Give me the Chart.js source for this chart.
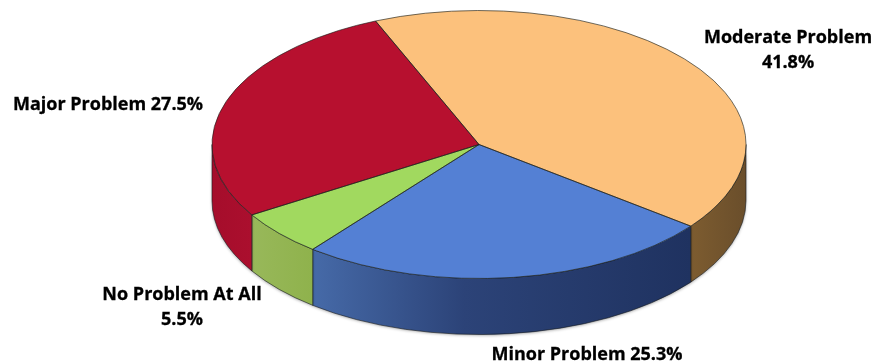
<!DOCTYPE html>
<html>
<head>
<meta charset="utf-8">
<script src="https://cdn.jsdelivr.net/npm/chart.js@4"></script>
<style>
    html, body { margin: 0; padding: 0; background: #fff; }
    canvas { display: block; }
</style>
</head>
<body>
<canvas id="grafico" width="880" height="364"></canvas>
<script>
const categorias = ['Moderate Problem', 'Minor Problem', 'No Problem At All', 'Major Problem'];
const valores = [41.8, 25.3, 5.5, 27.5];

const coresTopo = ['#fcc17c', '#5480d4', '#a1d95f', '#b7102f'];
const coresLado = [
    ['#7d5c30', '#6a4e2b'],
    ['#466aa8', '#1f3260'],
    ['#98b85a', '#8fb24c'],
    ['#a50d2b', '#ab0f2e']
];

// posicao de cada rotulo: texto em uma ou duas linhas
const rotulos = [
    {x: 788, y: 38, linhas: [categorias[0], valores[0] + '%']},
    {x: 587, y: 355, linhas: [categorias[1] + ' ' + valores[1] + '%']},
    {x: 182, y: 295, linhas: [categorias[2], valores[2] + '%']},
    {x: 108, y: 105, linhas: [categorias[3] + ' ' + valores[3] + '%']}
];

const RAIO_X = 267;
const RAIO_Y = 134;
const ALTURA = 56;
const ROTACAO = -22.8;

function caminhoLado(ctx, cx, cy, ini, fim){
    ctx.beginPath();
    ctx.ellipse(cx, cy, RAIO_X, RAIO_Y, 0, ini, fim);
    ctx.ellipse(cx, cy + ALTURA, RAIO_X, RAIO_Y, 0, fim, ini, true);
    ctx.closePath();
}

const pizza3d = {
    id: 'pizza3d',
    beforeDatasetDraw(chart){
        const ctx = chart.ctx;
        const arcos = chart.getDatasetMeta(0).data;
        const cx = arcos[0].x, cy = arcos[0].y, r = arcos[0].outerRadius;

        // lateral
        arcos.forEach((arco, i)=>{
            const ini = Math.max(arco.startAngle, 0);
            const fim = Math.min(arco.endAngle, Math.PI);
            if(fim <= ini) return;
            const x1 = cx + RAIO_X * Math.cos(ini);
            const x2 = cx + RAIO_X * Math.cos(fim);
            const grad = ctx.createLinearGradient(Math.min(x1, x2), 0, Math.max(x1, x2), 0);
            if(i === 1){
                grad.addColorStop(0, coresLado[i][0]);
                grad.addColorStop(0.4, '#2c4378');
                grad.addColorStop(1, coresLado[i][1]);
            }else{
                grad.addColorStop(0, coresLado[i][0]);
                grad.addColorStop(1, coresLado[i][1]);
            }
            ctx.save();
            ctx.shadowColor = 'rgba(0,0,0,0.35)';
            ctx.shadowBlur = 3;
            ctx.shadowOffsetY = 1;
            caminhoLado(ctx, cx, cy, ini, fim);
            ctx.fillStyle = grad;
            ctx.fill();
            ctx.restore();
            ctx.save();
            caminhoLado(ctx, cx, cy, ini, fim);
            ctx.strokeStyle = 'rgba(20,25,30,0.75)';
            ctx.lineWidth = 0.8;
            ctx.stroke();
            ctx.restore();
        });

        // achata o circulo do Chart.js em elipse
        ctx.save();
        ctx.translate(cx, cy);
        ctx.scale(RAIO_X / r, RAIO_Y / r);
        ctx.translate(-cx, -cy);
    },
    afterDatasetDraw(chart){
        const ctx = chart.ctx;
        ctx.restore();
        const arcos = chart.getDatasetMeta(0).data;
        const cx = arcos[0].x, cy = arcos[0].y;

        // contorno das fatias
        arcos.forEach(arco=>{
            ctx.beginPath();
            ctx.moveTo(cx, cy);
            ctx.ellipse(cx, cy, RAIO_X, RAIO_Y, 0, arco.startAngle, arco.endAngle);
            ctx.closePath();
            ctx.strokeStyle = 'rgba(25,30,25,0.7)';
            ctx.lineWidth = 0.9;
            ctx.stroke();
        });
    },
    afterDraw(chart){
        const ctx = chart.ctx;
        ctx.save();
        ctx.font = 'bold 18px "Open Sans"';
        ctx.fillStyle = '#000';
        ctx.strokeStyle = '#000';
        ctx.lineWidth = 0.3;
        ctx.textAlign = 'center';
        ctx.textBaseline = 'middle';
        rotulos.forEach(rotulo=>{
            rotulo.linhas.forEach((linha, i)=>{
                ctx.fillText(linha, rotulo.x, rotulo.y + i * 25);
                ctx.strokeText(linha, rotulo.x, rotulo.y + i * 25);
            });
        });
        ctx.restore();
    }
};

const ctx = document.getElementById('grafico').getContext('2d');
const data = {
    labels: categorias,
    datasets: [
        {
            data: valores,
            backgroundColor: coresTopo,
            borderWidth: 0
        }
    ]
};
const options = {
    responsive: false,
    animation: false,
    rotation: ROTACAO,
    layout: {
        padding: {left: 78, bottom: 75}
    },
    plugins: {
        legend: {display: false},
        tooltip: {enabled: false}
    }
};
const myChart = new Chart(ctx, {
    type: 'pie',
    data: data,
    options: options,
    plugins: [pizza3d]
});
</script>
</body>
</html>
